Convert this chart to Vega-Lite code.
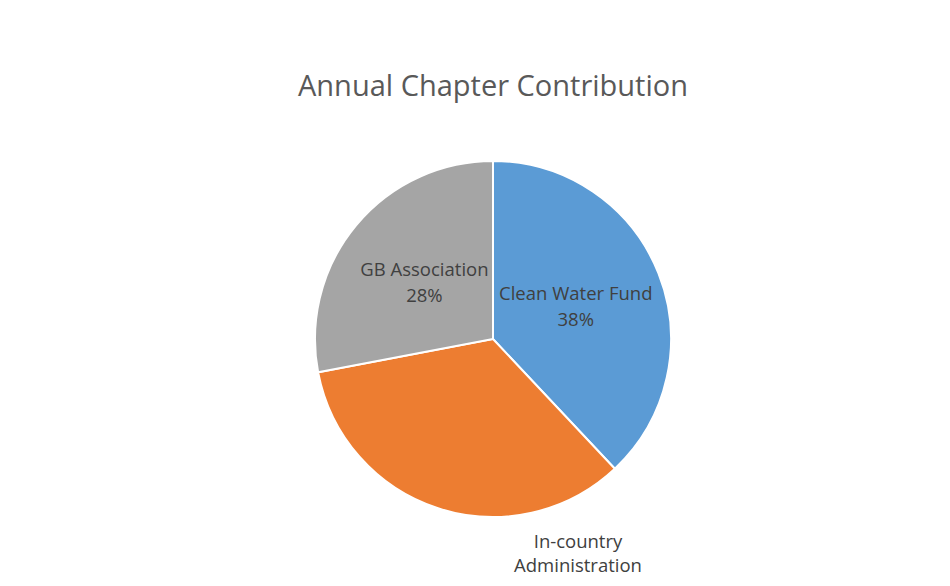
{
  "$schema": "https://vega.github.io/schema/vega-lite/v6.json",
  "width": 914,
  "height": 438,
  "autosize": "none",
  "padding": {"left": 36, "top": 120, "right": 0, "bottom": 28},
  "background": "white",
  "title": {"text": "Annual Chapter Contribution", "fontSize": 29, "font": "Open Sans", "fontWeight": "normal", "color": "#595959", "offset": 18, "anchor": "middle"},
  "view": {"stroke": null},
  "data": {"values": [
    {"idx": 1, "category": "Clean Water Fund", "share": 38, "label": "Clean Water Fund\n38%"},
    {"idx": 2, "category": "In-country Administration", "share": 34, "label": "In-country\nAdministration"},
    {"idx": 3, "category": "GB Association", "share": 28, "label": "GB Association\n28%"}
  ]},
  "encoding": {
    "theta": {"field": "share", "type": "quantitative", "stack": true},
    "order": {"field": "idx", "type": "quantitative"},
    "color": {"field": "category", "type": "nominal", "legend": null,
      "scale": {"domain": ["Clean Water Fund", "In-country Administration", "GB Association"], "range": ["#5B9BD5", "#ED7D31", "#A5A5A5"]}}
  },
  "layer": [
    {"mark": {"type": "arc", "outerRadius": 178, "stroke": "white", "strokeWidth": 2}},
    {"mark": {"type": "text", "radius": 89, "dy": -12, "font": "Open Sans", "fontSize": 18.5, "lineHeight": 26, "lineBreak": "\n", "align": "center", "baseline": "middle", "color": "#404040"},
     "encoding": {"text": {"condition": {"test": "datum.category == 'In-country Administration'", "value": ""}, "field": "label"}, "color": {"value": "#404040"}}},
    {"mark": {"type": "text", "radius": 178, "dx": 140, "dy": 25, "font": "Open Sans", "fontSize": 18.5, "lineHeight": 24, "lineBreak": "\n", "align": "center", "baseline": "top", "color": "#404040"},
     "encoding": {"text": {"condition": {"test": "datum.category != 'In-country Administration'", "value": ""}, "field": "label"}, "color": {"value": "#404040"}}}
  ]
}
